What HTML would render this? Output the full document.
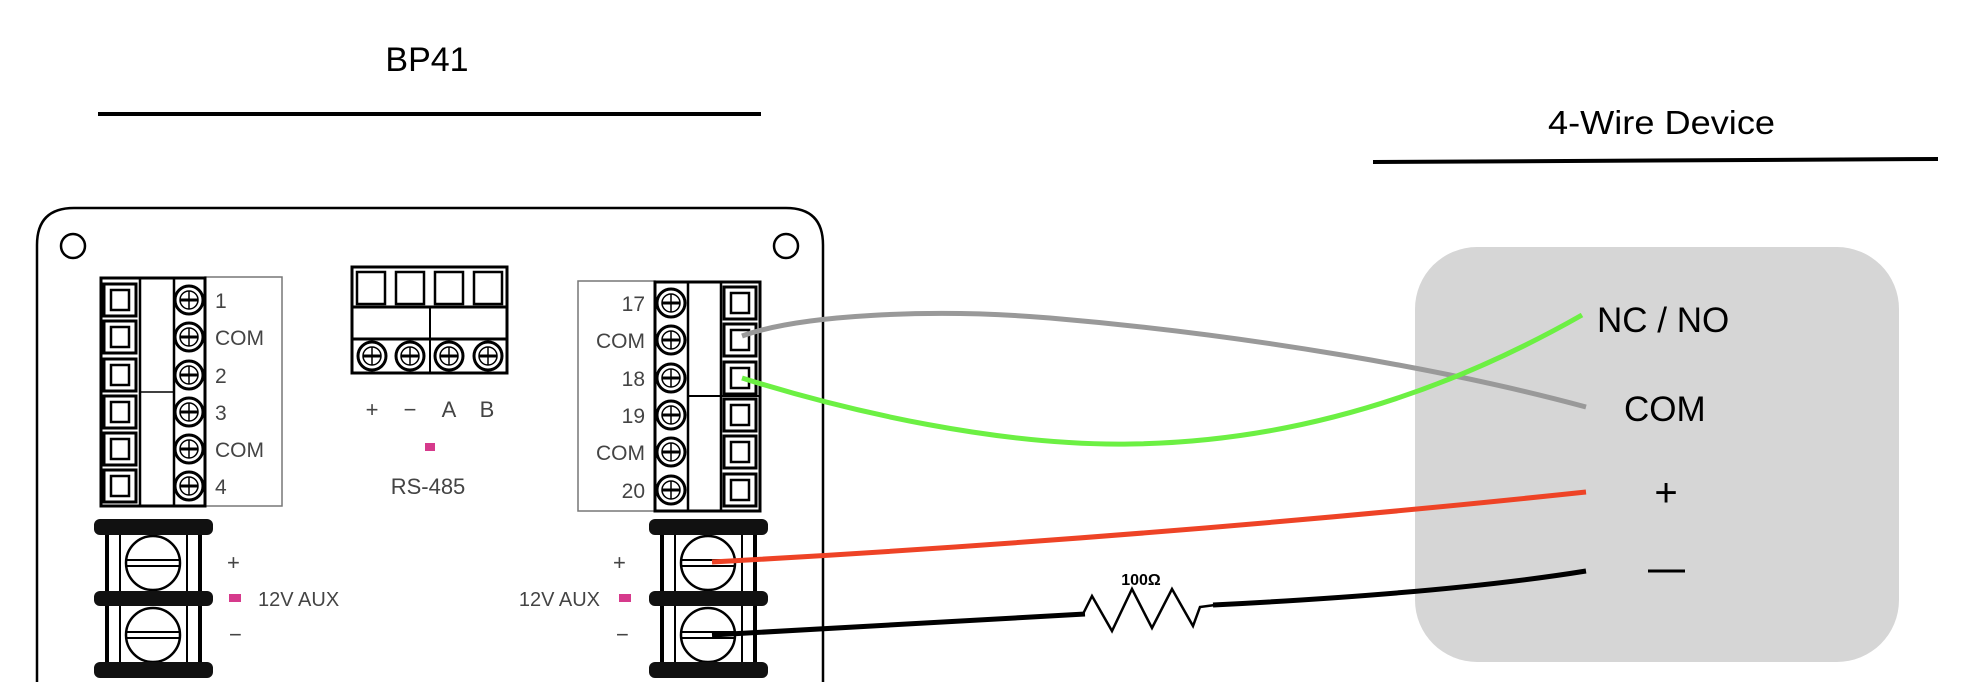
<!DOCTYPE html>
<html><head><meta charset="utf-8"><style>
html,body{margin:0;padding:0;background:#fff;}
svg{display:block;}
text{font-family:"Liberation Sans",sans-serif;}
</style></head><body>
<svg width="1970" height="682" viewBox="0 0 1970 682" xmlns="http://www.w3.org/2000/svg">
<defs>
  <g id="sq">
    <rect x="3" y="3" width="32" height="32" fill="#fff" stroke="#000" stroke-width="3"/>
    <rect x="10" y="9" width="18" height="20" fill="#fff" stroke="#000" stroke-width="2.5"/>
  </g>
  <g id="sc">
    <circle cx="0" cy="0" r="14" fill="#fff" stroke="#000" stroke-width="3"/>
    <circle cx="0" cy="0" r="9" fill="none" stroke="#000" stroke-width="1.5"/>
    <line x1="-9" y1="0" x2="9" y2="0" stroke="#000" stroke-width="3"/>
    <line x1="0" y1="-9" x2="0" y2="9" stroke="#000" stroke-width="1.5"/>
  </g>
  <g id="pw">
    <rect x="13" y="10" width="93" height="140" fill="#fff" stroke="#000" stroke-width="4"/>
    <line x1="26" y1="10" x2="26" y2="150" stroke="#000" stroke-width="2"/>
    <line x1="93" y1="10" x2="93" y2="150" stroke="#000" stroke-width="2"/>
    <circle cx="59" cy="44" r="27" fill="#fff" stroke="#000" stroke-width="2.5"/>
    <line x1="33" y1="41" x2="85" y2="41" stroke="#000" stroke-width="2"/>
    <line x1="33" y1="47" x2="85" y2="47" stroke="#000" stroke-width="2"/>
    <circle cx="59" cy="116" r="27" fill="#fff" stroke="#000" stroke-width="2.5"/>
    <line x1="33" y1="113" x2="85" y2="113" stroke="#000" stroke-width="2"/>
    <line x1="33" y1="119" x2="85" y2="119" stroke="#000" stroke-width="2"/>
    <rect x="0" y="0" width="119" height="16" rx="6" fill="#111"/>
    <rect x="0" y="72" width="119" height="15" rx="6" fill="#111"/>
    <rect x="0" y="143" width="119" height="16" rx="6" fill="#111"/>
  </g>
</defs>

<!-- titles -->
<text x="427" y="71" font-size="34" text-anchor="middle" fill="#000">BP41</text>
<line x1="98" y1="114" x2="761" y2="114" stroke="#000" stroke-width="4"/>
<text x="1548" y="134" font-size="33" textLength="227" lengthAdjust="spacingAndGlyphs" fill="#000">4-Wire Device</text>
<line x1="1373" y1="162" x2="1938" y2="159" stroke="#000" stroke-width="4"/>

<!-- board -->
<path d="M37,700 L37,245 Q37,208 74,208 L786,208 Q823,208 823,245 L823,700" fill="none" stroke="#000" stroke-width="2.5"/>
<circle cx="73" cy="246" r="12" fill="#fff" stroke="#000" stroke-width="2.5"/>
<circle cx="786" cy="246" r="12" fill="#fff" stroke="#000" stroke-width="2.5"/>

<!-- left block -->
<rect x="205" y="277" width="77" height="229" fill="none" stroke="#777" stroke-width="1.5"/>
<rect x="101" y="278" width="104" height="228" fill="#fff" stroke="#000" stroke-width="3"/>
<line x1="140" y1="278" x2="140" y2="506" stroke="#000" stroke-width="2.5"/>
<line x1="174" y1="278" x2="174" y2="506" stroke="#000" stroke-width="2.5"/>
<line x1="140" y1="392" x2="174" y2="392" stroke="#000" stroke-width="1.5"/>
<use href="#sq" x="101" y="281"/><use href="#sq" x="101" y="318"/><use href="#sq" x="101" y="356"/>
<use href="#sq" x="101" y="393"/><use href="#sq" x="101" y="430"/><use href="#sq" x="101" y="467"/>
<use href="#sc" x="189" y="300"/><use href="#sc" x="189" y="337"/><use href="#sc" x="189" y="375"/>
<use href="#sc" x="189" y="412"/><use href="#sc" x="189" y="449"/><use href="#sc" x="189" y="486"/>
<g font-size="21" fill="#444">
<text x="215" y="308">1</text><text x="215" y="345">COM</text><text x="215" y="383">2</text>
<text x="215" y="420">3</text><text x="215" y="457">COM</text><text x="215" y="494">4</text>
</g>

<!-- RS-485 block -->
<rect x="352" y="267" width="155" height="106" fill="#fff" stroke="#000" stroke-width="3"/>
<line x1="352" y1="307" x2="507" y2="307" stroke="#000" stroke-width="3"/>
<line x1="352" y1="339" x2="507" y2="339" stroke="#000" stroke-width="3"/>
<line x1="430" y1="307" x2="430" y2="373" stroke="#000" stroke-width="2"/>
<rect x="357" y="272" width="28" height="32" fill="#fff" stroke="#000" stroke-width="2.5"/>
<rect x="396" y="272" width="28" height="32" fill="#fff" stroke="#000" stroke-width="2.5"/>
<rect x="435" y="272" width="28" height="32" fill="#fff" stroke="#000" stroke-width="2.5"/>
<rect x="474" y="272" width="28" height="32" fill="#fff" stroke="#000" stroke-width="2.5"/>
<use href="#sc" x="372" y="356"/><use href="#sc" x="410" y="356"/><use href="#sc" x="449" y="356"/><use href="#sc" x="488" y="356"/>
<g font-size="22" fill="#444" text-anchor="middle">
<text x="372" y="417">+</text><text x="410" y="417">−</text><text x="449" y="417">A</text><text x="487" y="417">B</text>
<text x="428" y="494" font-size="22">RS-485</text>
</g>
<rect x="425" y="443" width="10" height="8" fill="#d63a8c"/>

<!-- right block -->
<rect x="578" y="281" width="77" height="230" fill="none" stroke="#777" stroke-width="1.5"/>
<rect x="655" y="282" width="105" height="229" fill="#fff" stroke="#000" stroke-width="3"/>
<line x1="688" y1="282" x2="688" y2="511" stroke="#000" stroke-width="2.5"/>
<line x1="721" y1="282" x2="721" y2="511" stroke="#000" stroke-width="2.5"/>
<line x1="688" y1="396" x2="760" y2="396" stroke="#000" stroke-width="2"/>
<use href="#sq" x="721" y="284"/><use href="#sq" x="721" y="321"/><use href="#sq" x="721" y="359"/>
<use href="#sq" x="721" y="396"/><use href="#sq" x="721" y="433"/><use href="#sq" x="721" y="471"/>
<use href="#sc" x="671" y="303"/><use href="#sc" x="671" y="340"/><use href="#sc" x="671" y="378"/>
<use href="#sc" x="671" y="415"/><use href="#sc" x="671" y="452"/><use href="#sc" x="671" y="490"/>
<g font-size="21" fill="#444" text-anchor="end">
<text x="645" y="311">17</text><text x="645" y="348">COM</text><text x="645" y="386">18</text>
<text x="645" y="423">19</text><text x="645" y="460">COM</text><text x="645" y="498">20</text>
</g>

<!-- power terminals -->
<use href="#pw" x="94" y="519"/>
<use href="#pw" x="649" y="519"/>
<g font-size="22" fill="#444">
<text x="227" y="570">+</text><text x="229" y="642">−</text>
<text x="258" y="606" font-size="20">12V AUX</text>
<text x="613" y="570">+</text><text x="616" y="642">−</text>
<text x="600" y="606" font-size="20" text-anchor="end">12V AUX</text>
</g>
<rect x="229" y="594" width="12" height="8" fill="#d63a8c"/>
<rect x="619" y="594" width="12" height="8" fill="#d63a8c"/>

<!-- device box -->
<rect x="1415" y="247" width="484" height="415" rx="62" fill="#d6d6d6"/>
<g font-size="35" fill="#000">
<text x="1597" y="332">NC / NO</text>
<text x="1624" y="421">COM</text>
<text x="1666" y="506" font-size="40" text-anchor="middle">+</text>
</g>
<line x1="1648" y1="571" x2="1685" y2="571" stroke="#000" stroke-width="3"/>

<!-- wires -->
<path d="M742,336 C 800,315 930,308 1050,318 C 1250,335 1450,370 1586,407" fill="none" stroke="#999" stroke-width="5"/>
<path d="M742,378 C 850,412 1000,446 1130,444 C 1300,442 1450,390 1582,315" fill="none" stroke="#6cf043" stroke-width="5"/>
<path d="M712,562 Q 1150,538 1586,492" fill="none" stroke="#ee4326" stroke-width="5"/>
<path d="M712,635 Q 900,625 1085,614" fill="none" stroke="#000" stroke-width="5"/>
<polyline points="1083,614 1092,596 1112,631 1132,589 1152,628 1172,589 1193,626 1200,607 1215,605" fill="none" stroke="#000" stroke-width="2.5"/>
<path d="M1213,605 Q 1450,593 1586,571" fill="none" stroke="#000" stroke-width="5"/>
<text x="1141" y="585" font-size="16" font-weight="bold" text-anchor="middle">100Ω</text>
</svg>
</body></html>
